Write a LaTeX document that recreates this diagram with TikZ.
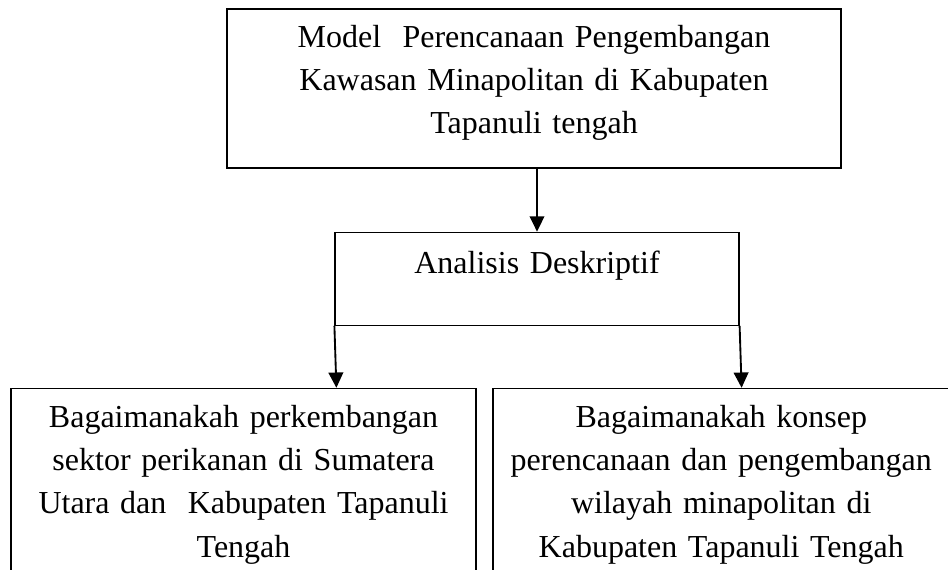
\documentclass[tikz,border=0pt]{standalone}
\usepackage{fontspec}
\setmainfont{Liberation Serif}
\usetikzlibrary{positioning}
\usetikzlibrary{arrows.meta}

\begin{document}
\begin{tikzpicture}[
    box/.style={draw, line width=0.9pt, inner sep=0pt, align=center,
                font=\fontsize{24pt}{32.4pt}\selectfont},
    arr/.style={-{Triangle[length=11.5pt,width=11pt]}, line width=1.4pt}]
                \useasboundingbox (0,0) rectangle (711pt,-426.75pt);
                \clip (0,0) rectangle (711pt,-426.75pt);
                \node[box, text width=460.5pt, text height=28.5pt, text depth=90.75pt] (model) at (400.5pt,-66.375pt)
                    {Model\ \ Perencanaan Pengembangan\\ Kawasan Minapolitan di Kabupaten\\ Tapanuli tengah};
                \node[box, below=47.25pt of model, xshift=2.25pt, text width=303pt, text height=30.75pt, text depth=39pt] (analisis)
                    {Analisis Deskriptif};
                \node[box, below=46.5pt of analisis, xshift=-220.1pt, text width=348.75pt, text height=29.25pt, text depth=140pt] (perkembangan)
                    {Bagaimanakah perkembangan\\ sektor perikanan di Sumatera\\ Utara dan\ \ Kabupaten Tapanuli\\ Tengah};
                \node[box, below=46.5pt of analisis, xshift=138.2pt, text width=342.4pt, text height=29.25pt, text depth=140pt] (konsep)
                    {Bagaimanakah konsep\\ perencanaan dan pengembangan\\ wilayah minapolitan di\\ Kabupaten Tapanuli Tengah};
                \draw[arr] (analisis.north |- model.south) -- (analisis.north);
                \draw[arr] (analisis.south west) -- ([xshift=1.5pt]analisis.south west |- perkembangan.north);
                \draw[arr] (analisis.south east) -- ([xshift=1.5pt]analisis.south east |- konsep.north);
            \end{tikzpicture}
\end{document}
